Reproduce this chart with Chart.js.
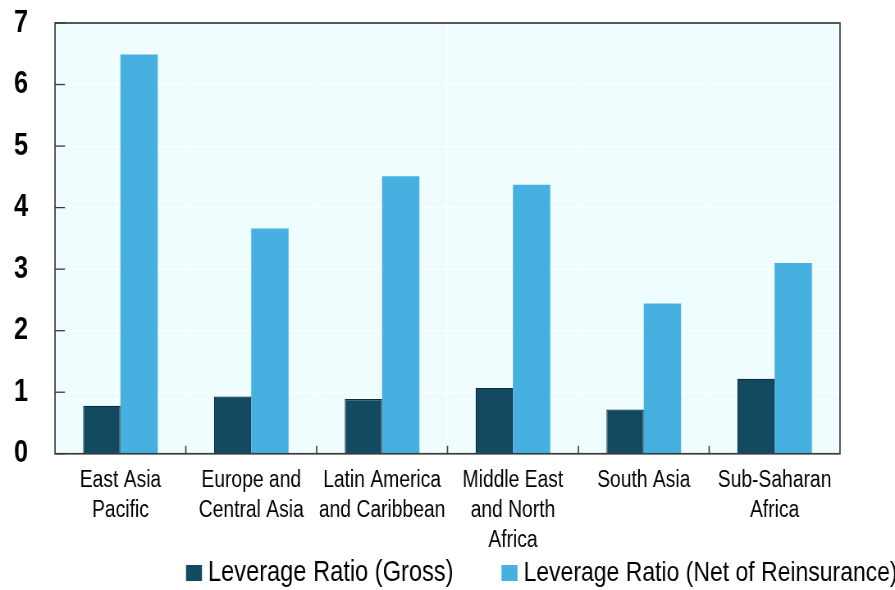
<!DOCTYPE html>
<html>
<head>
<meta charset="utf-8">
<script src="https://cdn.jsdelivr.net/npm/chart.js@4/dist/chart.umd.min.js"></script>
<style>
  html, body { margin: 0; padding: 0; background: #ffffff; overflow: hidden; }
  /* the canvas is drawn wider and squeezed to 895px, which narrows the type */
  #c { display: block; width: 895px; height: 590px; }
</style>
</head>
<body>
<canvas id="c" width="1091" height="590" style="width:895px;height:590px"></canvas>
<script>
// Regions (multi-line axis labels)
const regions = [
  ['East Asia', 'Pacific'],
  ['Europe and', 'Central Asia'],
  ['Latin America', 'and Caribbean'],
  ['Middle East', 'and North', 'Africa'],
  ['South Asia'],
  ['Sub-Saharan', 'Africa']
];

// Leverage ratios per region
const grossLeverage = [0.78, 0.93, 0.89, 1.07, 0.72, 1.22];
const netLeverage   = [6.49, 3.66, 4.51, 4.37, 2.44, 3.10];

const seriesNames = ['Leverage Ratio (Gross)', 'Leverage Ratio (Net of Reinsurance)'];
const yTicks = [0, 1, 2, 3, 4, 5, 6, 7];

const FONT = "'Liberation Sans', Arial, sans-serif";
const SQ = 895 / 1091;          // horizontal squeeze of the canvas
const px = v => v / SQ;         // screen px -> canvas px (horizontal)

// Plot background, frame and inward tick marks
const framePlugin = {
  id: 'frame',
  beforeDraw(chart) {
    const { ctx, chartArea: a } = chart;
    ctx.save();
    ctx.fillStyle = '#F0FDFF';
    ctx.fillRect(a.left, a.top, a.right - a.left, a.bottom - a.top);
    ctx.restore();
  },
  afterDatasetsDraw(chart) {
    const { ctx, chartArea: a, scales } = chart;
    ctx.save();
    ctx.strokeStyle = '#3a3a3a';
    ctx.lineWidth = 1.7;
    ctx.strokeRect(a.left, a.top, a.right - a.left, a.bottom - a.top);
    ctx.lineWidth = 1.3;
    yTicks.forEach(v => {
      const y = scales.y.getPixelForValue(v);
      ctx.beginPath();
      ctx.moveTo(a.left, y);
      ctx.lineTo(a.left + px(10), y);
      ctx.stroke();
    });
    ctx.lineWidth = 1.6;
    const x = scales.x;
    for (let i = 1; i < regions.length; i++) {
      const bx = (x.getPixelForValue(i - 1) + x.getPixelForValue(i)) / 2;
      ctx.beginPath();
      ctx.moveTo(bx, a.bottom);
      ctx.lineTo(bx, a.bottom - 8);
      ctx.stroke();
    }
    ctx.restore();
  }
};

// Legend row under the axis labels
const legendPlugin = {
  id: 'legendRow',
  afterDraw(chart) {
    const { ctx } = chart;
    const yMid = 573;
    let x = px(186);
    ctx.save();
    ctx.textBaseline = 'middle';
    ctx.textAlign = 'left';
    chart.data.datasets.forEach((ds, i) => {
      ctx.font = (i === 0 ? '28.8px ' : '28px ') + FONT;
      ctx.fillStyle = ds.backgroundColor;
      ctx.fillRect(x, yMid - 8, px(16), 16);
      const tx = x + px(22);
      ctx.fillStyle = '#000000';
      ctx.fillText(ds.label, tx, yMid);
      x = tx + ctx.measureText(ds.label).width + px(48);
    });
    ctx.restore();
  }
};

const noEdgePadding = scale => { scale.paddingTop = 0; scale.paddingBottom = 0; };

new Chart(document.getElementById('c'), {
  type: 'bar',
  data: {
    labels: regions,
    datasets: [
      {
        label: seriesNames[0],
        data: grossLeverage,
        backgroundColor: '#134A62',
        borderColor: '#0B2C3C',
        borderWidth: 1.2,
        borderSkipped: 'bottom',
        categoryPercentage: 0.57,
        barPercentage: 1.0
      },
      {
        label: seriesNames[1],
        data: netLeverage,
        backgroundColor: '#46B0E0',
        borderWidth: 0,
        categoryPercentage: 0.57,
        barPercentage: 1.0
      }
    ]
  },
  options: {
    responsive: false,
    animation: false,
    devicePixelRatio: 1,
    layout: { padding: { top: 23, left: 0, right: 0, bottom: 22 } },
    plugins: {
      title: { display: false },
      tooltip: { enabled: false },
      legend: { display: false }
    },
    scales: {
      x: {
        offset: true,
        grid: {
          display: true,
          offset: true,
          color: 'rgba(255,255,255,0.95)',
          drawTicks: false
        },
        border: { display: false },
        ticks: {
          color: '#000000',
          padding: 12,
          maxRotation: 0,
          autoSkip: false,
          font: { family: FONT, size: 23.5, lineHeight: 1.28 }
        }
      },
      y: {
        min: 0,
        max: 7,
        grid: {
          color: 'rgba(255,255,255,0.95)',
          drawTicks: false
        },
        border: { display: false },
        ticks: {
          stepSize: 1,
          padding: px(27),
          color: '#000000',
          font: { family: FONT, size: 31, weight: 'bold' }
        },
        afterFit(scale) { scale.width = px(55); noEdgePadding(scale); }
      },
      yRight: {
        position: 'right',
        display: true,
        grid: { display: false, drawTicks: false },
        border: { display: false },
        ticks: { display: false },
        afterFit(scale) { scale.width = px(55); noEdgePadding(scale); }
      }
    }
  },
  plugins: [framePlugin, legendPlugin]
});
</script>
</body>
</html>
